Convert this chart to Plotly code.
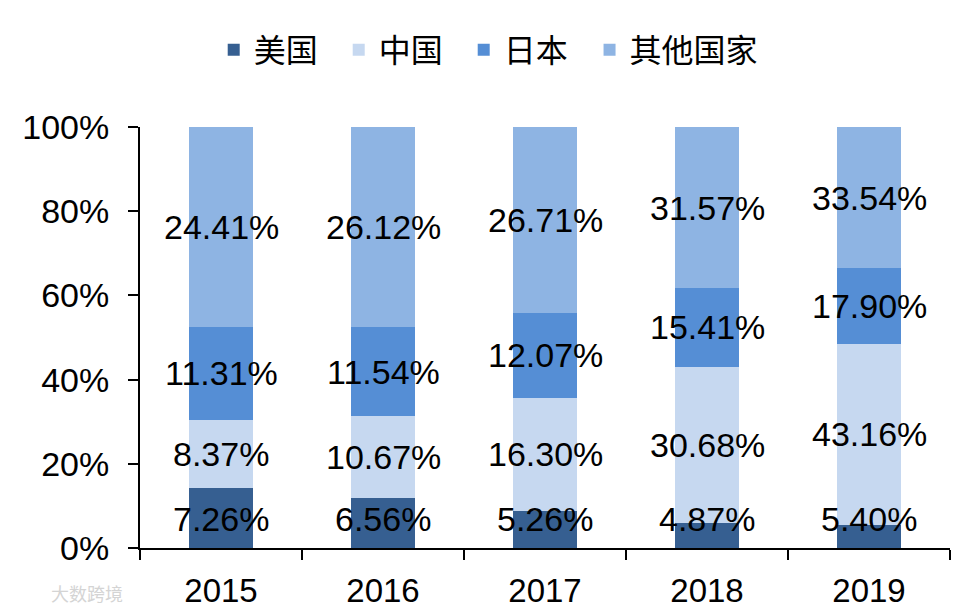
import plotly.graph_objects as go

years = ["2015", "2016", "2017", "2018", "2019"]
series_names = ["美国", "中国", "日本", "其他国家"]
usa = [7.26, 6.56, 5.26, 4.87, 5.40]
china = [8.37, 10.67, 16.30, 30.68, 43.16]
japan = [11.31, 11.54, 12.07, 15.41, 17.90]
others = [24.41, 26.12, 26.71, 31.57, 33.54]
colors = ["#365F91", "#C6D8F0", "#558ED5", "#8EB4E3"]
y_ticks = [0, 20, 40, 60, 80, 100]

series = [usa, china, japan, others]
totals = [sum(v) for v in zip(*series)]
shares = [[v / t * 100 for v, t in zip(s, totals)] for s in series]

FONT = "Liberation Sans, Arial, sans-serif"
CJK = "Noto Sans CJK SC"
fig = go.Figure()
for k, (name, vals, col) in enumerate(zip(series_names, shares, colors)):
    fig.add_trace(go.Bar(x=years, y=vals, name=name, marker=dict(color=col, line=dict(width=0)),
                         hoverinfo="skip", legend="legend2" if k == 3 else "legend"))

# data labels drawn above all bars (x as category index)
base = [0.0] * len(years)
for i, (raw, sh) in enumerate(zip(series, shares)):
    for xi, (b, s, v) in enumerate(zip(base, sh, raw)):
        if i == 0:
            fig.add_annotation(x=xi, y=0, text=f"{v:.2f}%", showarrow=False, yanchor="bottom",
                               yshift=8, font=dict(family=FONT, size=34, color="black"))
        else:
            fig.add_annotation(x=xi, y=b + s / 2, text=f"{v:.2f}%", showarrow=False,
                               font=dict(family=FONT, size=34, color="black"))
    base = [b + s for b, s in zip(base, sh)]

fig.add_annotation(text="大数跨境", xref="paper", yref="paper", x=-0.065, xanchor="center",
                   y=-0.108, yanchor="middle", showarrow=False,
                   font=dict(family=CJK, size=18, color="#d4d4d4"))

legend_common = dict(orientation="h", yanchor="middle", y=1.183, xanchor="left",
                     font=dict(family=CJK, size=32, color="black"), traceorder="normal",
                     bgcolor="rgba(0,0,0,0)")
fig.update_layout(
    width=949, height=600,
    margin=dict(l=132, r=7, t=119, b=60, autoexpand=False),
    paper_bgcolor="white", plot_bgcolor="white",
    barmode="stack", bargap=0.6,
    font=dict(family=FONT, size=34, color="black"),
    showlegend=True,
    legend=dict(x=0.091, entrywidth=80, entrywidthmode="pixels", **legend_common),
    legend2=dict(x=0.555, **legend_common),
    xaxis=dict(type="category", range=[-0.5, 4.5], showline=True, linecolor="black", linewidth=2,
               ticks="outside", tickson="boundaries", ticklen=10, tickwidth=2, tickcolor="black",
               showgrid=False, ticklabelstandoff=12, tickfont=dict(family=FONT, size=33)),
    yaxis=dict(range=[0, 100], tickvals=y_ticks, ticktext=[f"{t}%" for t in y_ticks],
               showline=True, linecolor="black", linewidth=2,
               ticks="outside", ticklen=10, tickwidth=2, tickcolor="black",
               showgrid=False, zeroline=False, ticklabelstandoff=12,
               tickfont=dict(family=FONT, size=34)),
)
fig.write_html("out.html")
